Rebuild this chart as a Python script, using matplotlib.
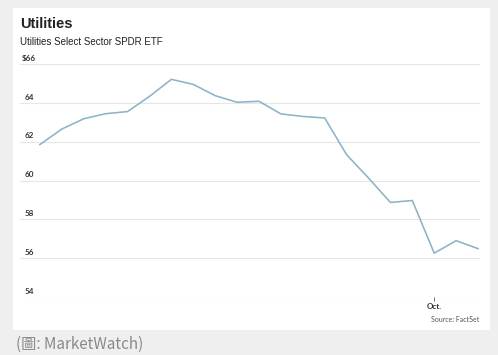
import matplotlib
matplotlib.use('Agg')
import matplotlib.pyplot as plt
from matplotlib.patches import Rectangle

# Utilities Select Sector SPDR ETF, daily closes
prices = [61.85, 62.65, 63.18, 63.44, 63.55, 64.33, 65.21, 64.95, 64.37, 64.03,
          64.08, 63.43, 63.30, 63.22, 61.33, 60.13, 58.87, 58.97, 56.26, 56.90, 56.49]
y_ticks = [54, 56, 58, 60, 62, 64, 66]
y_labels = ['54', '56', '58', '60', '62', '64', '$66']
x_tick_pos = [18]
x_tick_labels = ['Oct.']

W, H = 498, 355
fig = plt.figure(figsize=(W/100, H/100), dpi=100)
fig.patch.set_facecolor('#efefef')

# white card
fig.patches.append(Rectangle((13/W, 1-330/H), 477/W, 322/H, transform=fig.transFigure,
                             facecolor='white', edgecolor='none', zorder=-5))

ax = fig.add_axes([20/W, 1-297/H, 460/W, 233/H])
ax.set_zorder(2)
ax.set_facecolor('none')
x = list(range(len(prices)))
ax.plot(x, prices, color='#8db3c6', lw=1.15, solid_joinstyle='round')
ax.set_xlim(-0.91, 20.09)
ax.set_ylim(54, 66)

for v in y_ticks:
    ax.axhline(v, color='#e6e6e6', lw=0.8, zorder=0)
for v, lab in zip(y_ticks, y_labels):
    ax.text(0.003 if lab.startswith('$') else 0.011, v + 0.12, lab,
            transform=ax.get_yaxis_transform(), ha='left', va='bottom',
            fontsize=5.8, fontweight='bold', color='#333333', family='Lato')

for s in ax.spines.values():
    s.set_visible(False)
ax.set_yticks([])
ax.set_xticks(x_tick_pos)
ax.set_xticklabels(x_tick_labels, fontsize=5.8, fontweight='bold', color='#333333', family='Lato')
ax.tick_params(axis='x', length=3, width=0.6, color='#555555', pad=1, direction='out')

fig.text(20/W, 1-24/H, 'Utilities', fontsize=10.5, fontweight='bold', color='#222222',
         family='Liberation Sans', va='center', ha='left')
fig.text(20/W, 1-42/H, 'Utilities Select Sector SPDR ETF', fontsize=7, color='#222222',
         family='Liberation Sans', va='center', ha='left')
fig.text(479/W, 1-319/H, 'Source: FactSet', fontsize=5, color='#555555',
         family='Lato', va='center', ha='right')
fig.text(16/W, 1-344/H, '(圖: MarketWatch)', fontsize=11, color='#8a8a8a',
         family=['Noto Sans CJK TC', 'DejaVu Sans'], va='center', ha='left')

fig.savefig('out.png', dpi=100, facecolor=fig.get_facecolor())
